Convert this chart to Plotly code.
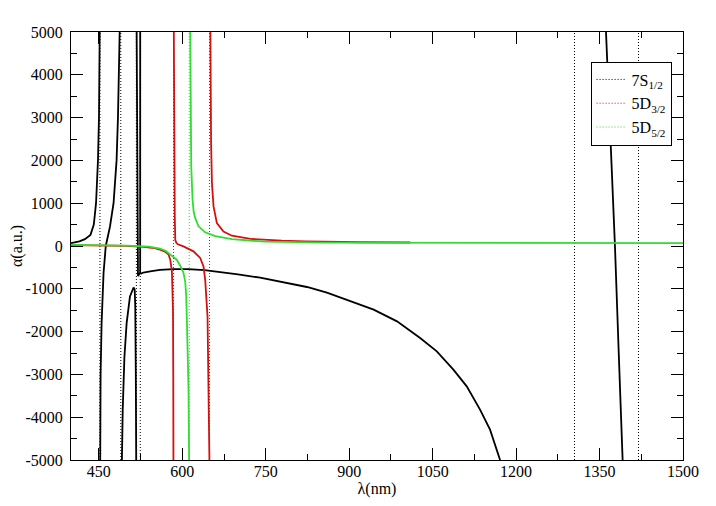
import plotly.graph_objects as go

# 7S1/2 polarizability (a.u.) vs wavelength (nm), one list pair per branch
S7_A_NM = [400, 415, 425, 435, 441, 445, 448.5, 450.3, 451.6]
S7_A_AU = [65, 110, 160, 260, 500, 1000, 2000, 3000, 5000]
S7_B_NM = [452.5, 453.2, 455, 458.5, 462.5, 470, 476.5, 481.9, 484.4, 487.5]
S7_B_AU = [-5000, -3000, -1800, -630, 0, 450, 1000, 2000, 3000, 5000]
S7_C_NM = [491.5, 493, 496, 500, 506, 512.5, 514.5, 515.5, 516.5, 517.2]
S7_C_AU = [-5000, -3800, -2600, -1800, -1180, -970, -1020, -1400, -3000, -5000]
S7_D_NM = [518.0, 519.0, 519.8, 520.4, 522.5, 524.3, 524.4]
S7_D_AU = [5000, 1500, -300, -700, -660, -620, 5000]
S7_E_NM = [524.7, 530, 545, 560, 584, 610, 640, 670, 700, 740, 776, 824, 860,
           896, 944, 986, 1027.5, 1057.5, 1087.3, 1111.3, 1135.2, 1153.2, 1171.2]
S7_E_AU = [-650, -620, -585, -560, -540, -540, -565, -610, -665, -740, -827, -958, -1090,
           -1254, -1488, -1761, -2149, -2462, -2890, -3280, -3824, -4290, -5000]
S7_F_NM = [1361.6, 1371.5, 1377.7, 1384.5, 1391.5]
S7_F_AU = [5000, 2000, 0, -2500, -5000]

# 5D3/2
D3_A_NM = [400, 450, 500, 530, 550, 560, 570, 575.3, 578.4, 581.4, 582.6, 583.3, 583.8, 584.1]
D3_A_AU = [20, 15, 5, -20, -50, -85, -140, -200, -320, -590, -950, -1500, -3000, -5000]
D3_B_NM = [584.8, 585.5, 586.5, 587.4, 589, 592, 602, 620.2, 632.2, 638.2, 641.2, 645.4, 647.2, 648.8]
D3_B_AU = [5000, 2000, 700, 147, 80, 40, -10, -125, -280, -480, -790, -1650, -3200, -5000]
D3_C_NM = [650.5, 651.3, 651.8, 653.3, 656.2, 662.2, 674.1, 689.2, 725, 779, 821, 920, 1010]
D3_C_AU = [5000, 3000, 2400, 1470, 925, 535, 340, 240, 163, 124, 107, 88, 82]

# 5D5/2
D5_A_NM = [400, 450, 500, 540, 560, 570, 578.5, 590, 596.3, 602, 605.3, 607, 608.4, 610, 611.3, 612.3]
D5_A_AU = [25, 20, 10, -15, -60, -110, -200, -320, -460, -620, -830, -1150, -1800, -2600, -3400, -5000]
D5_B_NM = [614.3, 615, 616.1, 618.4, 620.5, 623.3, 629.2, 641.2, 659.2, 689.2, 749, 857, 1000, 1200, 1500]
D5_B_AU = [5000, 3000, 1860, 1100, 800, 650, 460, 320, 230, 160, 100, 80, 75, 72, 65]

# resonance positions (dotted verticals)
S7_POLES = [452, 489.5, 517.5, 524.5, 1305, 1420]
D3_POLES = [584.3, 649.0]
D5_POLES = [612.5]

X_TICKS = [450, 600, 750, 900, 1050, 1200, 1350, 1500]
Y_TICKS = [-5000, -4000, -3000, -2000, -1000, 0, 1000, 2000, 3000, 4000, 5000]

BLACK = '#000000'
RED = '#d41010'
GREEN = '#30dd30'
FONT = '"Liberation Serif", "DejaVu Serif", serif'
DOTS = '1px,2px'

sets = [
    ('7S<sub>1/2</sub>', BLACK, S7_POLES,
     [(S7_A_NM, S7_A_AU), (S7_B_NM, S7_B_AU), (S7_C_NM, S7_C_AU),
      (S7_D_NM, S7_D_AU), (S7_E_NM, S7_E_AU), (S7_F_NM, S7_F_AU)]),
    ('5D<sub>3/2</sub>', RED, D3_POLES,
     [(D3_A_NM, D3_A_AU), (D3_B_NM, D3_B_AU), (D3_C_NM, D3_C_AU)]),
    ('5D<sub>5/2</sub>', GREEN, D5_POLES,
     [(D5_A_NM, D5_A_AU), (D5_B_NM, D5_B_AU)]),
]

fig = go.Figure()

for name, color, poles, branches in sets:
    # Dotted resonance markers
    for p in poles:
        fig.add_vline(x=p, line_color=color, line_width=1, line_dash=DOTS, layer='below')

    for xs, ys in branches:
        fig.add_trace(go.Scatter(
            x=xs, y=ys, mode='lines', line=dict(color=color, width=1.8),
            showlegend=False, hoverinfo='skip'
        ))

# Legend entries use the dotted style
for name, color, poles, branches in sets:
    fig.add_trace(go.Scatter(
        x=[None], y=[None], mode='lines', name=name,
        line=dict(color=color, width=1, dash=DOTS)
    ))

# The page body adds an 8px offset, so the figure is a bit smaller than the window
fig.update_layout(
    width=700,
    height=490,
    margin={"l": 63, "r": 25, "t": 24, "b": 38},
    paper_bgcolor='white',
    plot_bgcolor='white',
    font=dict(family=FONT, size=16, color='black'),
    legend=dict(
        x=0.849, y=0.931, xanchor='left', yanchor='top',
        bordercolor='black', borderwidth=1, bgcolor='white',
        font=dict(family=FONT, size=16), itemwidth=30
    ),
)

fig.update_xaxes(
    range=[400, 1500], tickvals=X_TICKS, automargin=False,
    showline=True, linecolor='black', linewidth=1, mirror='allticks',
    ticks='inside', ticklen=12, tickwidth=1, tickcolor='black',
    minor=dict(ticks='inside', ticklen=6, tickwidth=1, tickcolor='black', tick0=450, dtick=75),
    showgrid=False, zeroline=False, ticklabelstandoff=-3,
    tickfont=dict(family=FONT, size=16),
    title=dict(text='λ(nm)', standoff=12, font=dict(family=FONT, size=16))
)
fig.update_yaxes(
    range=[-5000, 5000], tickvals=Y_TICKS, ticktext=[str(v) for v in Y_TICKS],
    automargin=False,
    showline=True, linecolor='black', linewidth=1, mirror='allticks',
    ticks='inside', ticklen=12, tickwidth=1, tickcolor='black',
    minor=dict(ticks='inside', ticklen=6, tickwidth=1, tickcolor='black', tick0=0, dtick=500),
    showgrid=False, zeroline=False, ticklabelstandoff=4,
    tickfont=dict(family=FONT, size=16),
    title=dict(text='α(a.u.)', standoff=5, font=dict(family=FONT, size=16))
)

fig.write_html("out.html")
